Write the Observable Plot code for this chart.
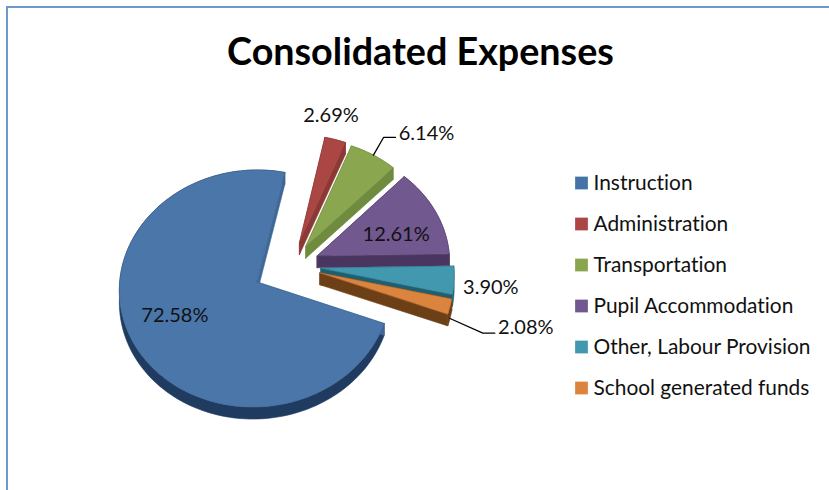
<!DOCTYPE html>
<html>
<head>
<meta charset="utf-8">
<script src="https://cdn.jsdelivr.net/npm/d3@7"></script>
<script src="https://cdn.jsdelivr.net/npm/@observablehq/plot@0.6"></script>
<style>
html,body{margin:0;padding:0;background:#fff;width:829px;height:490px;overflow:hidden}
#frame{position:absolute;left:6px;top:6px;width:860px;height:520px;border:2px solid #6f98cc;box-sizing:content-box}
#chart{position:absolute;left:0;top:0}
#chart text{font-variant-ligatures:none;font-feature-settings:"liga" 0}
</style>
</head>
<body>
<div id="frame"></div>
<div id="chart"></div>
<script>
const title = "Consolidated Expenses";
const categories = ["Instruction","Administration","Transportation","Pupil Accommodation","Other, Labour Provision","School generated funds"];
const shares = [72.58, 2.69, 6.14, 12.61, 3.90, 2.08];
const labels = ["72.58%","2.69%","6.14%","12.61%","3.90%","2.08%"];
const faceColors = ["#4a76a9","#aa4643","#8aa64f","#71588f","#4198af","#db843d"];
const legendColors = ["#4573a7","#aa4643","#89a54e","#71588f","#4198af","#db843d"];
const sideColors = ["#3e6898","#8c3835","#6f8b3e","#4a3560","#1f5f6f","#6d3f17"];
const arcColors = ["#1f3b60","#8c3835","#6f8b3e","#4a3560","#1f5f6f","#6d3f17"];

// Pie layout (unit-circle plane): first-slice angle, per-slice explosion, label placement
const firstAngle = 110.5;
const explosion = [0.29, 0.21, 0.20, 0.21, 0.22, 0.22];
const widthFactor = [0.99, 1, 1, 1, 1, 1];
const labelRadius = [0.65, 1.22, 1.44, 0.63, 1.28, 1.58];
const labelTurn = [3.5, -4.5, 10, 6.5, 1.5, 0.3];
const leaderSlices = [2, 5];
const leaderDrop = [0, 0, 4, 0, 0, 6];

// Projection of the tilted pie into the picture
const cx = 291, cy = 265, rx = 135, ry = 116, perspV = 0.055, perspU = 0.012, depth = 12;
const project = (u, v) => { const w = 1 + perspV * v + perspU * u; return [cx + rx * u / w, cy - ry * v / w]; };
const rad = d => d * Math.PI / 180;

let a = firstAngle;
const slices = shares.map((s, i) => {
  const sweep = s / 100 * 360;
  const t0 = a, t1 = a + sweep; a = t1;
  const mid = (t0 + t1) / 2, e = explosion[i];
  const ox = e * Math.sin(rad(mid)), oy = e * Math.cos(rad(mid));
  const at = (t, r) => project(ox + widthFactor[i] * r * Math.sin(rad(t)), oy + r * Math.cos(rad(t)));
  const arc = d3.range(0, 1.0001, 1 / Math.max(4, Math.ceil(sweep / 2))).map(f => at(t0 + f * sweep, 1));
  return {i, t0, t1, mid, at, arc, apex: at(0, 0)};
});

const polys = [];
const push = (pts, id, color, stroke) => pts.forEach(p => polys.push({x: p[0], y: p[1], id, color, stroke: stroke || color}));
const down = p => [p[0], p[1] + depth];
[1, 2, 3, 4, 5, 0].forEach(i => {
  const s = slices[i];
  const first = s.arc[0], last = s.arc[s.arc.length - 1];
  push([...s.arc, ...s.arc.map(down).reverse()], `arc${i}`, arcColors[i]);
  push([s.apex, first, down(first), down(s.apex)], `sa${i}`, sideColors[i]);
  push([s.apex, last, down(last), down(s.apex)], `sb${i}`, sideColors[i]);
  push([s.apex, ...s.arc], `top${i}`, faceColors[i], d3.color(faceColors[i]).darker(0.4).formatHex());
});

const labelRows = slices.map(s => {
  const [x, y] = s.at(s.mid + labelTurn[s.i], labelRadius[s.i]);
  return {x, y, text: labels[s.i]};
});

// Leader lines: arc midpoint -> elbow -> just before the label's side
const leaders = [];
leaderSlices.forEach(i => {
  const s = slices[i], l = labelRows[i];
  const start = s.at(s.mid, 1);
  const y0 = i === 5 ? start[1] + depth : start[1];
  const endX = l.x - 31;
  leaders.push({x: start[0], y: y0, id: i}, {x: endX - 12, y: l.y + leaderDrop[i], id: i}, {x: endX, y: l.y + leaderDrop[i], id: i});
});

const legendX = 581, legendTextX = 593, legendTop = 182.5, legendStep = 41;
const legendRows = categories.map((c, i) => ({c, color: legendColors[i], y: legendTop + i * legendStep}));

const fontFamily = "Lato, 'Open Sans', sans-serif";
const chart = Plot.plot({
  width: 829, height: 490,
  margin: 0,
  x: {domain: [0, 829], range: [0, 829], axis: null},
  y: {domain: [0, 490], range: [0, 490], axis: null},
  color: {type: "identity"},
  style: {background: "transparent", fontFamily},
  marks: [
    Plot.line(polys, {x: "x", y: "y", z: "id", fill: "color", stroke: "stroke", strokeWidth: 0.6, curve: "linear-closed"}),
    Plot.line(leaders, {x: "x", y: "y", z: "id", stroke: "#000", strokeWidth: 1.3}),
    Plot.text(labelRows, {x: "x", y: "y", text: "text", fontSize: 20, fill: "#111", textAnchor: "middle"}),
    Plot.dot(legendRows, {x: legendX, y: "y", symbol: "square", r: 7.2, fill: "color", stroke: null}),
    Plot.text(legendRows, {x: legendTextX, y: "y", text: "c", fontSize: 20.9, fill: "#111", textAnchor: "start"}),
    Plot.text([title], {x: () => 420, y: () => 52, text: d => d, fontSize: 37.7, fontWeight: 700, fill: "#000", textAnchor: "middle"})
  ]
});
document.getElementById("chart").append(chart);
</script>
</body>
</html>
